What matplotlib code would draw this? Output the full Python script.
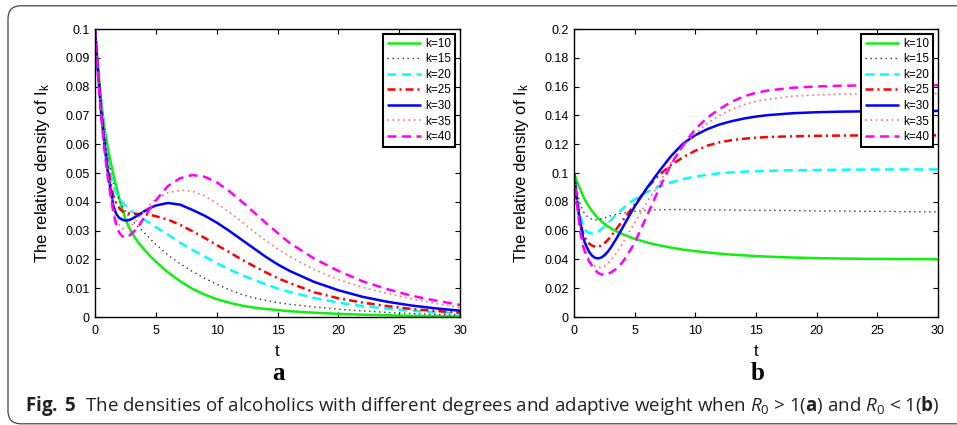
import matplotlib
matplotlib.use("Agg")
import matplotlib.pyplot as plt
from matplotlib.patches import FancyBboxPatch

# ---------------- data ----------------
t = [0, 0.25, 0.5, 0.75, 1, 1.25, 1.5, 1.75, 2, 2.25, 2.5, 2.75, 3, 3.5, 4, 4.5, 5,
     6, 7, 8, 9, 10, 11, 12, 13, 14, 15, 16, 18, 20, 22, 24, 26, 28, 30]

labels = ["k=10", "k=15", "k=20", "k=25", "k=30", "k=35", "k=40"]

# panel a (R0 > 1)
a_k10 = [0.1, .086, .0755, .0665, .060, .0545, .0497, .0452, .0411, .0373, .0340, .0316, .0294,
         .0262, .0236, .0213, .0192, .0155, .0124, .0098, .0078, .0062, .0050, .0040, .0033,
         .0028, .0024, .0020, .0015, .0011, .0008, .0006, .0004, .0003, .0002]
a_k15 = [0.1, .0868, .075, .0652, .0575, .0515, .0467, .0432, .0405, .0385, .0368, .0352, .0338,
         .0315, .0295, .0273, .0252, .0215, .0185, .0158, .0135, .0114, .0095, .0079, .0067,
         .0058, .0050, .0044, .0035, .0027, .0021, .0016, .0012, .0009, .0007]
a_k20 = [0.1, .0865, .0745, .064, .056, .050, .0458, .043, .0412, .0398, .0387, .0377, .0367,
         .0352, .0339, .0326, .0312, .0286, .0258, .0233, .0210, .0187, .0166, .0147, .0130,
         .0114, .0099, .0087, .0066, .0050, .0038, .0029, .0022, .0016, .0012]
a_k25 = [0.1, .086, .073, .0625, .054, .047, .0422, .0395, .0378, .0368, .0363, .0360, .0359,
         .0358, .0357, .0355, .0350, .0338, .0320, .0298, .0275, .0250, .0226, .0201, .0178,
         .0156, .0135, .0118, .0086, .0065, .0050, .0038, .0028, .0021, .0015]
a_k30 = [0.1, .085, .071, .061, .052, .045, .0387, .0357, .0344, .0338, .0335, .0336, .0340,
         .0352, .0366, .0378, .0387, .0396, .0390, .0372, .0352, .0328, .0300, .0270, .0240,
         .0210, .0183, .0160, .0122, .0093, .0070, .0053, .0040, .0030, .0022]
a_k35 = [0.1, .0845, .0705, .060, .051, .0435, .038, .034, .0318, .0308, .0306, .0310, .0318,
         .0340, .0365, .0390, .0410, .0432, .0440, .0437, .0421, .0395, .0365, .0333, .0298,
         .0266, .0237, .0210, .0165, .0130, .0103, .0082, .0063, .0047, .0033]
a_k40 = [0.1, .084, .070, .059, .050, .043, .0365, .0318, .0292, .0280, .0276, .0280, .0289,
         .0310, .0343, .0375, .0405, .0455, .0482, .0493, .0487, .0468, .0438, .0403, .0366,
         .0328, .0292, .0257, .0203, .0160, .0124, .0097, .0074, .0057, .0042]

# panel b (R0 < 1)
b_k10 = [0.1, .094, .089, .084, .080, .0765, .0735, .0708, .0685, .0665, .0648, .0632, .0618,
         .0595, .0575, .0558, .0543, .0518, .0498, .0482, .0468, .0457, .0448, .0440, .0433,
         .0428, .0423, .0419, .0413, .0409, .0406, .0404, .0403, .0402, .0401]
b_k15 = [0.1, .088, .079, .0735, .0705, .0688, .0678, .0675, .0677, .0682, .0688, .0695, .0702,
         .0713, .0722, .0729, .0734, .0741, .0745, .0746, .0746, .0745, .0744, .0743, .0742,
         .0742, .0741, .0740, .0739, .0737, .0736, .0734, .0733, .0731, .0730]
b_k20 = [0.1, .083, .071, .0635, .0595, .0583, .058, .0585, .0595, .061, .0628, .0648, .067,
         .0712, .0752, .0788, .0818, .0868, .0905, .0935, .0958, .0975, .0988, .0998, .1004,
         .1009, .1012, .1015, .1019, .1021, .1023, .1024, .1025, .1025, .1025]
b_k25 = [0.1, .079, .066, .058, .0535, .051, .0495, .0488, .0488, .0497, .0512, .0532, .0555,
         .0612, .0668, .0725, .0780, .0895, .0985, .1055, .1110, .1155, .1190, .1213, .1228,
         .1238, .1245, .1250, .1255, .1258, .1260, .1261, .1262, .1262, .1262]
b_k30 = [0.1, .081, .066, .055, .0495, .0452, .0425, .041, .0407, .0413, .0428, .0450, .0478,
         .0545, .0620, .0695, .0768, .0895, .1010, .1118, .1205, .1263, .1305, .1337, .1360,
         .1378, .1392, .1402, .1415, .1422, .1426, .1428, .1430, .1430, .1431]
b_k35 = [0.1, .079, .062, .051, .045, .040, .037, .0352, .0345, .0345, .0353, .0370, .0392,
         .0443, .0510, .0585, .0655, .0795, .0925, .1075, .1185, .1275, .1345, .1400, .1442,
         .1475, .1498, .1513, .1533, .1543, .1548, .1550, .1551, .1552, .1552]
b_k40 = [0.1, .078, .060, .049, .043, .0385, .0355, .0325, .0305, .0296, .0294, .0298, .0307,
         .0335, .0380, .0445, .0515, .0700, .0890, .1060, .1195, .1305, .1385, .1445, .1495,
         .1532, .1557, .1573, .1592, .1601, .1606, .1608, .1610, .1610, .1610]

xticks = [0, 5, 10, 15, 20, 25, 30]
yticks_a = [0, 0.01, 0.02, 0.03, 0.04, 0.05, 0.06, 0.07, 0.08, 0.09, 0.1]
yticks_b = [0, 0.02, 0.04, 0.06, 0.08, 0.1, 0.12, 0.14, 0.16, 0.18, 0.2]

# ---------------- style ----------------
plt.rcParams['font.family'] = ['Liberation Sans', 'DejaVu Sans']
plt.rcParams['mathtext.fontset'] = 'custom'
plt.rcParams['mathtext.rm'] = 'Liberation Sans'

styles = [
    dict(color='#10f010', lw=1.8, ls='-'),
    dict(color='#333333', lw=1.0, ls=(0, (1, 2.6))),
    dict(color='#00ffff', lw=1.8, ls=(0, (3.6, 2.2))),
    dict(color='#ff0000', lw=1.8, ls=(0, (3.2, 1.6, 0.8, 1.6))),
    dict(color='#0000ff', lw=1.8, ls='-'),
    dict(color='#ff7070', lw=1.2, ls=(0, (1, 2.2))),
    dict(color='#ff00ff', lw=1.8, ls=(0, (3.6, 2.2))),
]

W, H = 957, 425
fig = plt.figure(figsize=(W / 100, H / 100), dpi=100)

# rounded frame around whole figure
frame = FancyBboxPatch((0.08, 0.012), 9.8, 4.18,
                       boxstyle="round,pad=0,rounding_size=0.13",
                       transform=fig.dpi_scale_trans, fill=False,
                       edgecolor='#444444', lw=0.9)
fig.patches.append(frame)

ax_a = fig.add_axes([95 / W, 108 / H, 365 / W, 288 / H])
ax_b = fig.add_axes([574 / W, 108 / H, 364 / W, 288 / H])

series_a = [a_k10, a_k15, a_k20, a_k25, a_k30, a_k35, a_k40]
series_b = [b_k10, b_k15, b_k20, b_k25, b_k30, b_k35, b_k40]

for ax, series, yt, ymax in [(ax_a, series_a, yticks_a, 0.1), (ax_b, series_b, yticks_b, 0.2)]:
    for y, lab, st in zip(series, labels, styles):
        ax.plot(t, y, label=lab, color=st['color'], lw=st['lw'], linestyle=st['ls'],
                dash_capstyle='butt', solid_capstyle='butt')
    ax.set_xlim(0, 30)
    ax.set_ylim(0, ymax)
    ax.set_xticks(xticks)
    ax.set_xticklabels([str(x) for x in xticks])
    ax.set_yticks(yt)
    ax.set_yticklabels(['%g' % v for v in yt])
    ax.tick_params(direction='in', top=True, right=True, length=3.5, width=0.8,
                   labelsize=9, pad=4)
    ax.tick_params(axis='x', pad=6)
    for sp in ax.spines.values():
        sp.set_linewidth(1.0)
    ax.set_xlabel('t', fontsize=12)
    ax.set_ylabel(r'The relative density of I$_{\mathregular{k}}$', fontsize=12)
    ax.xaxis.set_label_coords(0.5, -0.095)
    ax.yaxis.set_label_coords(-0.118, 0.5)
    leg = ax.legend(loc='upper right', fontsize=8.5, frameon=True, fancybox=False,
                    edgecolor='black', framealpha=1, handlelength=2.9,
                    handletextpad=0.35, labelspacing=0.3, borderpad=0.3,
                    borderaxespad=0.45)
    leg.get_frame().set_linewidth(1.5)

fig.text(278.7 / W, 1 - 380 / H, 'a', fontsize=18, fontweight='bold',
         family=['Liberation Serif', 'DejaVu Serif'], ha='center', va='baseline')
fig.text(757.3 / W, 1 - 380 / H, 'b', fontsize=18, fontweight='bold',
         family=['Liberation Serif', 'DejaVu Serif'], ha='center', va='baseline')

# caption
cap_font = 'Open Sans'
plt.rcParams['mathtext.rm'] = cap_font
plt.rcParams['mathtext.it'] = cap_font + ':italic'
plt.rcParams['mathtext.bf'] = cap_font + ':bold'
caption = (r'$\mathbf{Fig.\;5}$  The densities of alcoholics with different degrees and '
           r'adaptive weight when $R_0$ > 1($\mathbf{a}$) and $R_0$ < 1($\mathbf{b}$)')
fig.text(25 / W, 1 - 411 / H, caption, fontsize=13.5, family=cap_font,
         ha='left', va='baseline', color='#222222')

fig.savefig('out.png', dpi=100)
